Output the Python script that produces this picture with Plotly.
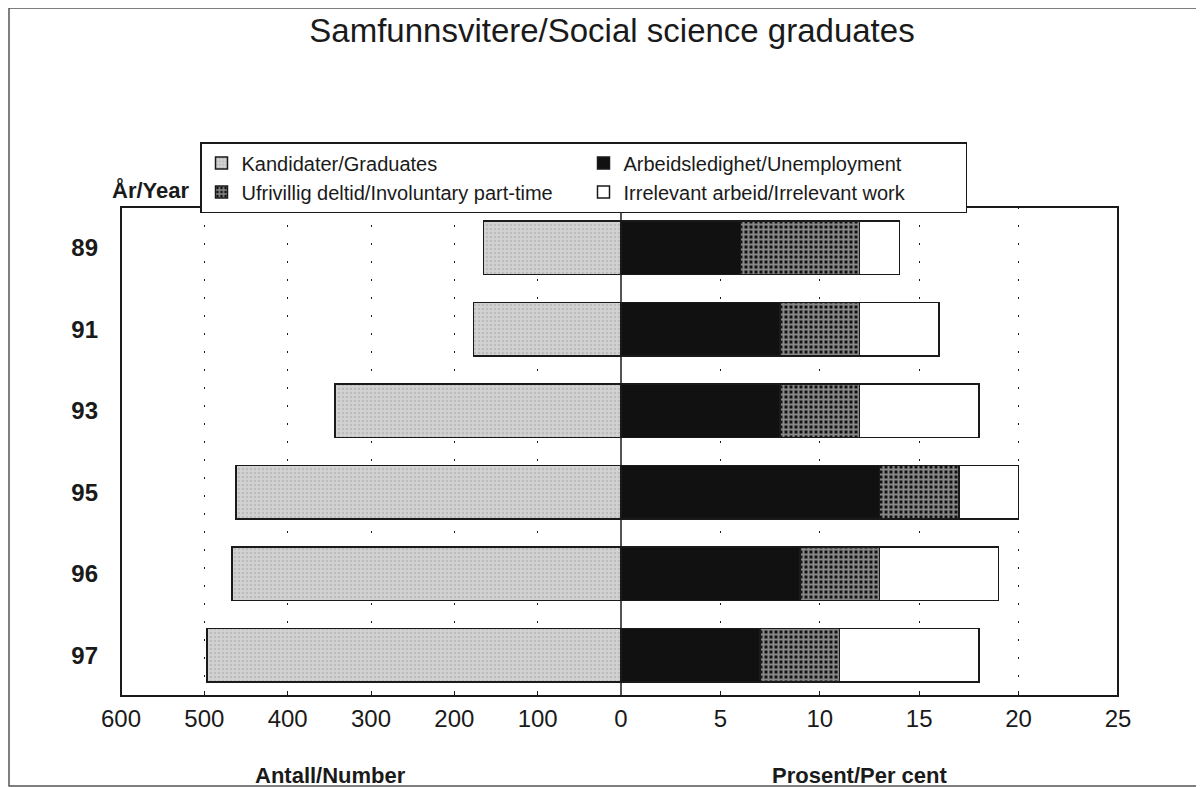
import plotly.graph_objects as go

# Data
years = ["89", "91", "93", "95", "96", "97"]
graduates = [165, 177, 343, 462, 467, 497]          # Antall/Number
unemployment = [6, 8, 8, 13, 9, 7]                  # per cent
part_time = [6, 4, 4, 4, 4, 4]                      # per cent
irrelevant = [2, 4, 6, 3, 6, 7]                     # per cent

left_ticks = [100, 200, 300, 400, 500, 600]
right_ticks = [0, 5, 10, 15, 20, 25]

FONT = "Liberation Sans, Arial, sans-serif"
INK = "#1a1a1a"
PW, PH = 997, 489          # plot area size in px
SPLIT = 500 / PW           # share of plot width used by the left (number) panel

outline = dict(color=INK, width=1.5)

fig = go.Figure()
fig.add_trace(go.Bar(
    name="Kandidater/Graduates", x=graduates, y=years, orientation="h",
    xaxis="x", yaxis="y",
    marker=dict(color="#d2d2d2", line=outline,
                pattern=dict(shape=".", fgcolor="#a5a5a5", size=4, solidity=0.3)),
))
fig.add_trace(go.Bar(
    name="Arbeidsledighet/Unemployment", x=unemployment, y=years, orientation="h",
    xaxis="x2", yaxis="y",
    marker=dict(color="#111111", line=outline),
))
fig.add_trace(go.Bar(
    name="Ufrivillig deltid/Involuntary part-time", x=part_time, y=years, orientation="h",
    xaxis="x2", yaxis="y",
    marker=dict(color="#111111", line=outline,
                pattern=dict(shape="+", fgcolor="white", bgcolor="#111111", size=5, solidity=0.65)),
))
fig.add_trace(go.Bar(
    name="Irrelevant arbeid/Irrelevant work", x=irrelevant, y=years, orientation="h",
    xaxis="x2", yaxis="y",
    marker=dict(color="white", line=outline),
))

axis_common = dict(
    showgrid=True, gridcolor=INK, gridwidth=1, griddash="2px,16px",
    ticks="inside", ticklen=5, tickcolor=INK,
    tickfont=dict(size=24, color=INK, family=FONT),
    ticklabelstandoff=6, showline=False, zeroline=False,
)

# page body adds an 8px offset, so the figure is sized to fit inside the window
fig.update_layout(
    width=1196, height=779,
    paper_bgcolor="white", plot_bgcolor="white",
    font=dict(family=FONT, color=INK),
    margin=dict(l=113, r=86, t=199, b=91),
    barmode="stack", bargap=0.34,
    title=dict(text="Samfunnsvitere/Social science graduates", x=0.505, xanchor="center",
               y=1 - 22 / 779, yanchor="middle", font=dict(size=33, color=INK)),
    xaxis=dict(domain=[0, SPLIT], range=[600, 0], tickvals=left_ticks, **axis_common),
    xaxis2=dict(domain=[SPLIT, 1], range=[0, 25], tickvals=right_ticks, anchor="y", **axis_common),
    yaxis=dict(autorange="reversed", showgrid=False, zeroline=False, ticks="",
               tickfont=dict(size=24, color=INK, family=FONT, weight="bold"), ticklabelstandoff=22),
    showlegend=True,
    legend=dict(
        orientation="h", x=(200 - 121) / PW, y=(696 - 142) / PH, xanchor="left", yanchor="top",
        entrywidth=337, entrywidthmode="pixels", traceorder="normal",
        bordercolor=INK, borderwidth=1.5, bgcolor="white",
        font=dict(size=20, color=INK), itemwidth=30,
    ),
    annotations=[
        dict(text="År/Year", xref="paper", yref="paper", x=(150 - 121) / PW, y=(696 - 190) / PH,
             xanchor="center", yanchor="middle", showarrow=False,
             font=dict(size=22, color=INK, weight="bold")),
        dict(text="Antall/Number", xref="paper", yref="paper", x=(330 - 121) / PW, y=(696 - 775) / PH,
             xanchor="center", yanchor="middle", showarrow=False,
             font=dict(size=22, color=INK, weight="bold")),
        dict(text="Prosent/Per cent", xref="paper", yref="paper", x=(860 - 121) / PW, y=(696 - 775) / PH,
             xanchor="center", yanchor="middle", showarrow=False,
             font=dict(size=22, color=INK, weight="bold")),
    ],
    shapes=[
        # plot frame
        dict(type="rect", xref="paper", yref="paper", x0=0, x1=1, y0=0, y1=1,
             line=dict(color=INK, width=2)),
        # centre line at zero
        dict(type="line", xref="paper", yref="paper", x0=SPLIT, x1=SPLIT, y0=0, y1=1,
             line=dict(color=INK, width=1.5)),
        # outer page frame
        dict(type="rect", xref="paper", yref="paper",
             x0=(9 - 121) / PW, x1=(1202 - 121) / PW, y0=(696 - 786) / PH, y1=(696 - 8) / PH,
             line=dict(color="#555555", width=1.5)),
    ],
)

fig.write_html("out.html")
